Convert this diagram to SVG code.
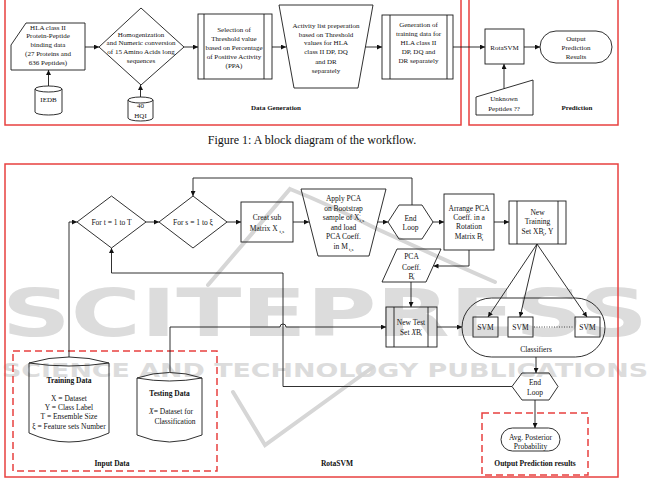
<svg xmlns="http://www.w3.org/2000/svg" width="651" height="481" viewBox="0 0 651 481">
<defs>
<style>
.n{fill:none;stroke:#1a1a1a;stroke-width:0.9}
.c{fill:none;stroke:#1a1a1a;stroke-width:0.9}
.t{font-family:"Liberation Serif","Times New Roman",serif;font-size:7px;text-anchor:middle;fill:#111}
.t8{font-family:"Liberation Serif","Times New Roman",serif;font-size:7.5px;text-anchor:middle;fill:#111}
.b{font-weight:bold}
.red{fill:none;stroke:#e8403f;stroke-width:1.5}
.dash{fill:none;stroke:#e8403f;stroke-width:1.5;stroke-dasharray:7,4}
.wm{font-family:"DejaVu Sans",sans-serif;font-weight:bold;fill:#dcdcdc}
.sw{fill:none;stroke:#d6d6d6;stroke-width:4;stroke-linecap:round}
</style>
<marker id="a" viewBox="0 0 6 6" refX="6" refY="3" markerWidth="5" markerHeight="5" markerUnits="userSpaceOnUse" orient="auto">
<path d="M0,0 L6,3 L0,6 Z" fill="#111"/>
</marker>
</defs>
<rect width="651" height="481" fill="#fff"/>

<!-- watermark -->
<g id="watermark">
<text class="wm" x="2" y="336" font-size="66" textLength="646" lengthAdjust="spacingAndGlyphs">SCITEPRESS</text>
<text class="wm" x="2" y="377" font-size="20" textLength="646" lengthAdjust="spacingAndGlyphs" fill="#d2d2d2">SCIENCE AND TECHNOLOGY PUBLICATIONS</text>
<path class="sw" d="M208,285 L290,189 Q330,205 375,228 Q440,258 495,282"/>
<path class="sw" d="M233,392 L265,445 L373,367"/>
</g>

<!-- ===== Figure 1 ===== -->
<rect class="red" x="5" y="-5" width="456" height="130"/>
<rect class="red" x="469" y="-5" width="149" height="130"/>

<g id="hla">
<path class="n" d="M11,45 L26,23 L85,23 L85,70 L11,70 Z"/>
<text class="t" x="48" y="29.5">HLA class II</text>
<text class="t" x="48" y="38">Protein-Peptide</text>
<text class="t" x="48" y="47">binding data</text>
<text class="t" x="48" y="56">(27 Proteins and</text>
<text class="t" x="48" y="65">636 Peptides)</text>
</g>
<g id="iedb">
<path class="n" d="M35,89 A13.5,3 0 0 1 62,89 L62,112 A13.5,3 0 0 1 35,112 Z M35,89 A13.5,3 0 0 0 62,89"/>
<text class="t" x="48.5" y="102">IEDB</text>
</g>
<g id="homog">
<path class="n" d="M141,8 L184,47 L141,85 L99,47 Z"/>
<text class="t" x="141" y="36.5">Homogenization</text>
<text class="t" x="141" y="45.2">and Numeric conversion</text>
<text class="t" x="141" y="54.2">of 15 Amino Acids long</text>
<text class="t" x="141" y="63.2">sequences</text>
</g>
<g id="hqi">
<path class="n" d="M128,100 A12.5,3 0 0 1 153,100 L153,118 A12.5,3 0 0 1 128,118 Z M128,100 A12.5,3 0 0 0 153,100"/>
<text class="t" x="140.5" y="108">40</text>
<text class="t" x="140.5" y="118">HQI</text>
</g>
<g id="selection">
<rect class="n" x="198" y="14" width="74" height="65"/>
<line class="n" x1="204" y1="14" x2="204" y2="79"/>
<line class="n" x1="264" y1="14" x2="264" y2="79"/>
<text class="t" x="234" y="31.5">Selection of</text>
<text class="t" x="234" y="40.5">Threshold value</text>
<text class="t" x="234" y="49.5">based on Percentage</text>
<text class="t" x="234" y="58.5">of Positive Activity</text>
<text class="t" x="234" y="67.5">(PPA)</text>
</g>
<g id="activity">
<path class="n" d="M279,5 L373,5 L358,88 L294,88 Z"/>
<text class="t" x="326" y="27.5">Activity list preperation</text>
<text class="t" x="326" y="36.5">based on Threshold</text>
<text class="t" x="326" y="45.2">values for HLA</text>
<text class="t" x="326" y="54.2">class II DP, DQ</text>
<text class="t" x="326" y="64.2">and  DR</text>
<text class="t" x="326" y="73.2">separately</text>
</g>
<g id="generation">
<rect class="n" x="382" y="15" width="71" height="64"/>
<line class="n" x1="390" y1="15" x2="390" y2="79"/>
<line class="n" x1="447" y1="15" x2="447" y2="79"/>
<text class="t" x="418.5" y="26.5">Generation of</text>
<text class="t" x="418.5" y="35.8">training data for</text>
<text class="t" x="418.5" y="44.8">HLA class II</text>
<text class="t" x="418.5" y="54.2">DP, DQ and</text>
<text class="t" x="418.5" y="63.2">DR separately</text>
</g>
<text class="t b" x="276" y="109.5">Data Generation</text>
<g id="rotasvm1">
<rect class="n" x="485" y="29" width="39" height="35"/>
<text class="t" x="504.5" y="49.5">RotaSVM</text>
</g>
<g id="output1">
<rect class="n" x="540" y="31" width="72" height="32" rx="16"/>
<text class="t" x="576" y="40.8">Output</text>
<text class="t" x="576" y="49.5">Prediction</text>
<text class="t" x="576" y="58.5">Results</text>
</g>
<g id="unknown">
<path class="n" d="M476,97 L533,80 L533,115 L476,115 Z"/>
<text class="t" x="504" y="100.8">Unknown</text>
<text class="t" x="504" y="110.8">Peptides ??</text>
</g>
<text class="t b" x="577" y="109.5">Prediction</text>

<g id="connectors1">
<line class="c" x1="48.5" y1="86" x2="48.5" y2="70" marker-end="url(#a)"/>
<line class="c" x1="85" y1="47" x2="99" y2="47" marker-end="url(#a)"/>
<line class="c" x1="140.5" y1="97" x2="140.5" y2="85" marker-end="url(#a)"/>
<line class="c" x1="184" y1="47" x2="198" y2="47" marker-end="url(#a)"/>
<line class="c" x1="272" y1="47" x2="286" y2="47" marker-end="url(#a)"/>
<line class="c" x1="365.5" y1="47" x2="382" y2="47" marker-end="url(#a)"/>
<line class="c" x1="453" y1="47" x2="485" y2="47" marker-end="url(#a)"/>
<line class="c" x1="524" y1="47" x2="540" y2="47" marker-end="url(#a)"/>
<line class="c" x1="504" y1="88.5" x2="504" y2="64" marker-end="url(#a)"/>
</g>

<text x="312" y="144" font-family="'Liberation Serif','Times New Roman',serif" font-size="12" text-anchor="middle" fill="#111">Figure 1: A block diagram of the workflow.</text>

<!-- ===== Figure 2 ===== -->
<rect class="red" x="5" y="164" width="613" height="313"/>
<rect class="dash" x="13" y="351" width="204" height="120"/>
<rect class="dash" x="482" y="413" width="106" height="62"/>

<g id="fort">
<path class="n" d="M111.5,196 L146,222 L111.5,248 L77,222 Z"/>
<text class="t8" x="111.5" y="224.8">For t = 1 to T</text>
</g>
<g id="fors">
<path class="n" d="M193,196 L227,222 L193,248 L159,222 Z"/>
<text class="t8" x="193" y="224.8">For s = 1 to ξ</text>
</g>
<g id="creat">
<rect class="n" x="241" y="202" width="52" height="40"/>
<text class="t8" x="267" y="220.2">Creat sub</text>
<text class="t8" x="267" y="231">Matrix X<tspan font-size="5" dx="2" dy="1.5">t,s</tspan></text>
</g>
<g id="applypca">
<path class="n" d="M301,189 L386,189 L369,256 L318,256 Z"/>
<text class="t8" x="343.5" y="201">Apply PCA</text>
<text class="t8" x="343.5" y="211">on Bootstrap</text>
<text class="t8" x="343.5" y="220.4">sample of X<tspan font-size="5" dy="-2.5">′</tspan><tspan font-size="5" dx="-1" dy="4">t,s</tspan></text>
<text class="t8" x="343.5" y="230">and load</text>
<text class="t8" x="343.5" y="239.4">PCA Coeff.</text>
<text class="t8" x="343.5" y="249.4">in M<tspan font-size="5" dx="1" dy="1.5">t,s</tspan></text>
</g>
<g id="endloop1">
<path class="n" d="M388,222 L399,205 L422,205 L433,222 L422,239 L399,239 Z"/>
<text class="t8" x="410.5" y="220.8">End</text>
<text class="t8" x="410.5" y="230">Loop</text>
</g>
<g id="arrange">
<rect class="n" x="444" y="194" width="50" height="56"/>
<text class="t8" x="469" y="211">Arrange PCA</text>
<text class="t8" x="469" y="220">Coeff. in a</text>
<text class="t8" x="469" y="229">Rotation</text>
<text class="t8" x="469" y="239.4">Matrix B<tspan font-size="5" dy="-2.5">′</tspan><tspan font-size="5" dx="-1.5" dy="4">t</tspan></text>
</g>
<g id="newtraining">
<rect class="n" x="509" y="201" width="57" height="43"/>
<line class="n" x1="517" y1="201" x2="517" y2="244"/>
<line class="n" x1="558" y1="201" x2="558" y2="244"/>
<text class="t8" x="537.5" y="215.4">New</text>
<text class="t8" x="537.5" y="224.4">Training</text>
<text class="t8" x="537.5" y="234.4">Set XB<tspan font-size="5" dy="-2.5">′</tspan><tspan font-size="5" dx="-1.5" dy="4">t</tspan><tspan dy="-1.5">, Y</tspan></text>
</g>
<g id="pcacoeff">
<path class="n" d="M397,249 L441,249 L426,282 L382,282 Z"/>
<text class="t8" x="411.5" y="259.4">PCA</text>
<text class="t8" x="411.5" y="270">Coeff.</text>
<text class="t8" x="411.5" y="278.5">B<tspan font-size="5" dy="-2.5">′</tspan><tspan font-size="5" dx="-1.5" dy="4">t</tspan></text>
</g>
<g id="newtest">
<rect class="n" x="386" y="307" width="51" height="40"/>
<line class="n" x1="394" y1="307" x2="394" y2="347"/>
<line class="n" x1="428" y1="307" x2="428" y2="347"/>
<text class="t8" x="411" y="324.5">New Test</text>
<text class="t8" x="411" y="334.5">Set <tspan font-style="italic">X</tspan>B<tspan font-size="5" dy="-2.5">′</tspan><tspan font-size="5" dx="-1.5" dy="4">t</tspan></text>
</g>
<g id="classifiers">
<rect class="n" x="462" y="298" width="143" height="59" rx="29.5"/>
<rect class="n" x="473" y="317" width="25" height="20"/>
<rect class="n" x="508" y="317" width="25" height="20"/>
<rect class="n" x="575" y="317" width="25" height="20"/>
<text class="t8" x="485.5" y="329.6">SVM</text>
<text class="t8" x="520.5" y="329.6">SVM</text>
<text class="t8" x="587.5" y="329.6">SVM</text>
<line x1="534" y1="327" x2="574" y2="327" stroke="#222" stroke-width="0.8" stroke-dasharray="1,1.5"/>
<text class="t8" x="536" y="351.5">Classifiers</text>
</g>
<g id="endloop2">
<path class="n" d="M512,386.5 L522,373 L549,373 L558,386.5 L549,400 L522,400 Z"/>
<text class="t8" x="535" y="384.5">End</text>
<text class="t8" x="535" y="394.5">Loop</text>
</g>
<g id="avg">
<rect class="n" x="501" y="428" width="59" height="23" rx="11.5"/>
<text class="t8" x="530.5" y="439.5">Avg. Posterior</text>
<text class="t8" x="530.5" y="448.5">Probability</text>
</g>
<g id="training">
<path class="n" d="M29,363 Q69,351 109,363 L109,433 Q69,451 29,433 Z"/>
<path class="n" d="M29,363 Q69,369 109,363"/>
<text class="t8 b" x="69" y="382.5">Training Data</text>
<text class="t8" x="69" y="400.8">X = Dataset</text>
<text class="t8" x="69" y="409.8">Y = Class Label</text>
<text class="t8" x="69" y="419.2">T = Ensemble Size</text>
<text class="t8" x="69" y="429.2">ξ = Feature sets Number</text>
</g>
<g id="testing">
<path class="n" d="M137,378 Q169.5,367 202,378 L202,435 Q169.5,449 137,435 Z"/>
<path class="n" d="M137,378 Q169.5,384 202,378"/>
<text class="t8 b" x="169.5" y="395.5">Testing Data</text>
<text class="t8" x="171" y="413.5"><tspan font-style="italic">X</tspan>= Dataset for</text>
<text class="t8" x="175" y="423.5">Classification</text>
</g>
<text class="t8 b" x="112" y="466">Input Data</text>
<text class="t8 b" x="337" y="466">RotaSVM</text>
<text class="t8 b" x="535" y="466">Output Prediction results</text>

<g id="connectors2">
<line class="c" x1="146" y1="222" x2="159" y2="222" marker-end="url(#a)"/>
<line class="c" x1="227" y1="222" x2="241" y2="222" marker-end="url(#a)"/>
<line class="c" x1="293" y1="222" x2="309" y2="222" marker-end="url(#a)"/>
<line class="c" x1="377.5" y1="222" x2="388" y2="222" marker-end="url(#a)"/>
<polyline class="c" points="412,205 412,178 193,178 193,196" marker-end="url(#a)"/>
<line class="c" x1="433" y1="222" x2="444" y2="222" marker-end="url(#a)"/>
<line class="c" x1="494" y1="222" x2="509" y2="222" marker-end="url(#a)"/>
<polyline class="c" points="469,250 469,266 433.5,266" marker-end="url(#a)"/>
<line class="c" x1="411" y1="282" x2="411" y2="307" marker-end="url(#a)"/>
<line class="c" x1="437" y1="327" x2="462" y2="327" marker-end="url(#a)"/>
<line class="c" x1="537" y1="244" x2="488" y2="317" marker-end="url(#a)"/>
<line class="c" x1="537" y1="244" x2="520" y2="317" marker-end="url(#a)"/>
<line class="c" x1="537" y1="244" x2="587" y2="317" marker-end="url(#a)"/>
<line class="c" x1="536" y1="357" x2="536" y2="373" marker-end="url(#a)"/>
<line class="c" x1="535" y1="400" x2="535" y2="428" marker-end="url(#a)"/>
<polyline class="c" points="512,386.5 283,386.5 283,273 111.5,273 111.5,248" marker-end="url(#a)"/>
<polyline class="c" points="69,357 69,222 77,222" marker-end="url(#a)"/>
<path class="c" d="M170,372 L170,327 L280,327 A3,3 0 0 1 286,327 L386,327" marker-end="url(#a)"/>
</g>
</svg>
